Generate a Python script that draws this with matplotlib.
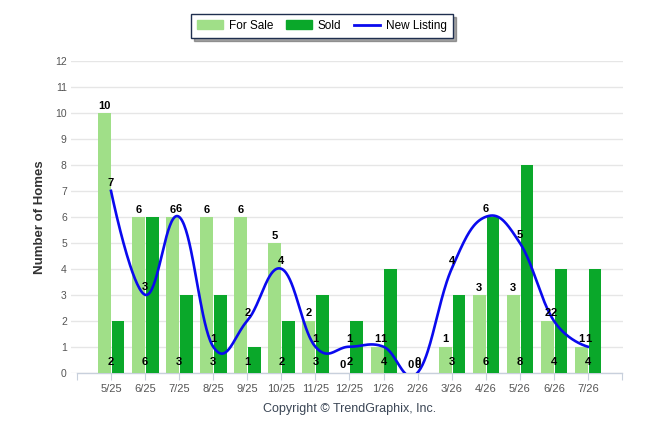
import numpy as np
import matplotlib.pyplot as plt
from matplotlib.patches import Patch
from matplotlib.lines import Line2D

plt.rcParams['font.family'] = ['Liberation Sans', 'DejaVu Sans']

# Dữ liệu
months = ['5/25', '6/25', '7/25', '8/25', '9/25', '10/25', '11/25', '12/25',
          '1/26', '2/26', '3/26', '4/26', '5/26', '6/26', '7/26']
for_sale = [10, 6, 6, 6, 6, 5, 2, 0, 1, 0, 1, 3, 3, 2, 1]
sold = [2, 6, 3, 3, 1, 2, 3, 2, 4, 0, 3, 6, 8, 4, 4]
new_listing = [7, 3, 6, 1, 2, 4, 1, 1, 1, 0, 4, 6, 5, 2, 1]


def spline_path(x, y, smoothing=1.5, steps=40):
    # đường cong kiểu Highcharts: Bezier bậc ba qua từng điểm
    x = np.asarray(x, float)
    y = np.asarray(y, float)
    n = len(x)
    d = smoothing + 1
    lx, ly = x.copy(), y.copy()
    rx, ry = x.copy(), y.copy()
    for i in range(1, n - 1):
        lx[i] = (smoothing * x[i] + x[i - 1]) / d
        ly[i] = (smoothing * y[i] + y[i - 1]) / d
        rx[i] = (smoothing * x[i] + x[i + 1]) / d
        ry[i] = (smoothing * y[i] + y[i + 1]) / d
        corr = (ry[i] - ly[i]) * (rx[i] - x[i]) / (rx[i] - lx[i]) + y[i] - ry[i]
        ly[i] += corr
        ry[i] += corr
    t = np.linspace(0, 1, steps)
    px, py = [], []
    for i in range(1, n):
        a = (1 - t) ** 3
        b = 3 * (1 - t) ** 2 * t
        c = 3 * (1 - t) * t ** 2
        e = t ** 3
        px.append(a * x[i - 1] + b * rx[i - 1] + c * lx[i] + e * x[i])
        py.append(a * y[i - 1] + b * ry[i - 1] + c * ly[i] + e * y[i])
    return np.concatenate(px), np.concatenate(py)


fig = plt.figure(figsize=(6.46, 4.34), dpi=100)
W, H = 646, 434
ax = fig.add_axes([71 / W, (H - 372.7) / H, (623 - 71) / W, (372.7 - 61) / H])

x = np.arange(len(months))
light = '#a0df88'
dark = '#0aa82a'
blue = '#0a0aee'

ax.bar(x - 0.19, for_sale, width=0.38, color=light, zorder=2)
ax.bar(x + 0.21, sold, width=0.37, color=dark, zorder=2)

sx, sy = spline_path(x, new_listing)
ax.plot(sx, sy, color=blue, lw=1.9, zorder=3)

# nhãn dữ liệu
for i in range(len(months)):
    ax.text(x[i] - 0.19, for_sale[i] + 0.28, str(for_sale[i]), ha='center', va='center',
            fontsize=8, fontweight='bold', color='black', zorder=4)
    ax.text(x[i], 0.41, str(sold[i]), ha='center', va='center',
            fontsize=8, fontweight='bold', color='black', zorder=4)
    ax.text(x[i], new_listing[i] + 0.31, str(new_listing[i]), ha='center', va='center',
            fontsize=8, fontweight='bold', color='black', zorder=4)

ax.set_xlim(-1.174, 15.03)
ax.set_ylim(0, 12)
ax.set_yticks(range(0, 13))
ax.set_xticks(range(-1, 16))
ax.set_xticklabels([''] + months + [''])
ax.tick_params(axis='y', length=0, labelsize=7.5, labelcolor='#555555', pad=3)
ax.tick_params(axis='x', length=5, color='#c8d0dc', labelsize=8, labelcolor='#555555', pad=3)
ax.grid(axis='y', color='#e6e6e6', lw=1, zorder=0)
for s in ax.spines.values():
    s.set_visible(False)
ax.plot([-1, 15], [0, 0], color='#c8d0dc', lw=1, clip_on=False, zorder=1)

fig.text(40 / W, 1 - 217 / H, 'Number of Homes', rotation=90, ha='center', va='center',
         fontsize=9.5, fontweight='bold', color='#333333')
fig.text(350 / W, 1 - 409 / H, 'Copyright \u00a9 TrendGraphix, Inc.', ha='center', va='center',
         fontsize=9, color='#3b4655')

handles = [Patch(color=light), Patch(color=dark), Line2D([], [], color=blue, lw=2)]
leg = fig.legend(handles, ['For Sale', 'Sold', 'New Listing'], loc='center',
                 bbox_to_anchor=(322 / W, 1 - 26 / H), ncol=3, fontsize=8.5,
                 frameon=True, fancybox=False, shadow=True, edgecolor='#1f2f4f',
                 handlelength=2.2, handleheight=0.8, columnspacing=1.1, handletextpad=0.5,
                 borderpad=0.5)
leg.get_frame().set_linewidth(1)

fig.savefig('out.png', dpi=100)
